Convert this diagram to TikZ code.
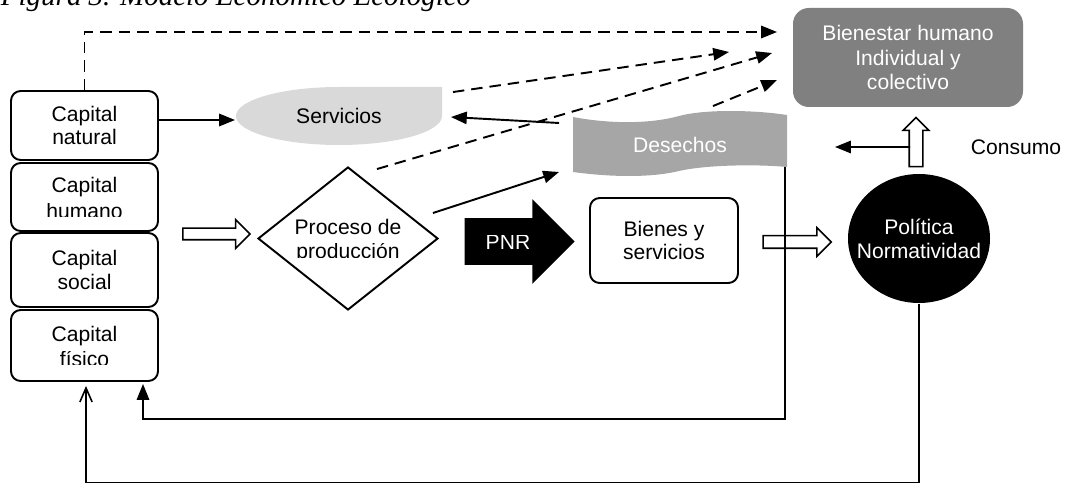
\documentclass[tikz,border=0pt]{standalone}
\usepackage{fontspec}
\setmainfont{Liberation Sans}
\newfontfamily\serifa{Liberation Serif}
\usepackage{trimclip}
\usetikzlibrary{arrows.meta,calc,positioning,shapes.geometric,shapes.arrows}

\def\px{0.02cm}
\newcommand\eco{\fontsize{12}{13.5}\selectfont}
\newcommand\recorte[2][1.1pt]{\clipbox{0pt {\dimexpr\depth+#1\relax} 0pt 0pt}{#2}}

\tikzset{
  eco schemes/.style = {
    x = \px, y = -\px,
    line width = 1.1pt,
    font = \eco,
    % Cajas
    capbox/.style = {draw, rounded corners=5.5pt, align=center, inner sep=0pt,
                     minimum width=147*\px},
    bloque/.style = {capbox, minimum width=148*\px, minimum height=85*\px},
    meta/.style   = {fill=gray, text=white, rounded corners=9pt, align=center,
                     minimum width=230*\px, minimum height=99*\px,
                     font=\fontsize{12}{14.2}\selectfont},
    rombo/.style  = {diamond, draw, fill=white, aspect=1.27, inner sep=0pt,
                     align=center, minimum width=180*\px, minimum height=143*\px},
    elipse/.style = {ellipse, fill=black, text=white, align=center,
                     inner xsep=-8pt, minimum width=142*\px, minimum height=129*\px},
    forma/.style  = {align=center, inner sep=0pt},
    % Flechas anchas: largo, medio ancho del cuerpo, saliente de la punta
    hueca/.style n args = {3}{single arrow, draw, fill=white, line width=0.9pt,
                     inner xsep=0pt, inner ysep=##2*\px, minimum height=##1*\px,
                     single arrow head extend=##3*\px},
    pnr/.style    = {single arrow, fill=black, text=white, inner xsep=0pt,
                     text height=8pt, text depth=0pt, inner ysep=8.8pt,
                     minimum height=110*\px, single arrow head extend=19*\px},
    % Lineas, flechas
    linea/.style   = {line width=1.1pt, -{Triangle[length=9pt,width=7pt]}},
    trazos/.style  = {linea, dash pattern=on 6.5pt off 4pt},
    abierta/.style = {line width=0.9pt, -{Straight Barb[length=8pt,width=7pt]}},
  }
}

\begin{document}
\begin{tikzpicture}[eco schemes]
\def\capital(#1)<#2>[#3] at (#4);{
  \node[capbox, minimum height=#2*\px] (#1) at (#4) {#3}; }

\useasboundingbox (0,0) rectangle (1066,483);
\node[anchor=base west, inner sep=0pt, font=\serifa\itshape\fontsize{16.5}{18}\selectfont]
  (titulo) at (0,6) {Figura 3. Modelo Económico Ecológico};

%---------------------------------------------
\capital (natural)<69>[Capital\\natural]          at (84.5,125.5);
\capital (humano)<68>[Capital\\\recorte{humano}]  at (84.5,197);
\capital (social)<74>[Capital\\social]            at (84.5,270);
\capital (fisico)<71>[Capital\\\recorte{físico}]  at (84.5,345.5);

\fill[gray!30] (442,87) -- (442,116) .. controls (442,132) and (396,145) .. (339,145)
  .. controls (282,145) and (236,132) .. (236,116)
  .. controls (236,100) and (282,87) .. (339,87) -- cycle;
\node[forma, minimum width=206*\px, minimum height=58*\px] (servicios) at (339,116) {Servicios};

\fill[gray!70] (573,117) .. controls (610,124) and (650,124) .. (679,116)
  .. controls (705,109) and (755,110) .. (787,115) -- (787,167)
  .. controls (755,164) and (705,165) .. (679,171)
  .. controls (650,178) and (610,177) .. (573,172) -- cycle;
\node[forma, text=white, minimum width=214*\px, minimum height=60*\px] (desechos) at (680,145) {Desechos};

\node[meta] (bienestar) at (908,57.5) {Bienestar humano\\Individual y\\colectivo};

\node[rombo] (proceso) at (348,238.5) {Proceso de\\\recorte[0.4pt]{producción}};
\node[pnr] (pnr) at (508,241.5) {\recorte[0.6pt]{PNR}};
\node[bloque] (bienes) at (664,240.5) {Bienes y\\servicios};
\node[elipse] (politica) at (919,238.5) {Política\\Normatividad};
\node (consumo) at (1016,147) {Consumo};
\coordinate (consumo tip) at (835,147);

\node[hueca={67}{5}{8.5}] (h1) at (213.5,234) {};
\node[hueca={68}{5.5}{8}] (h2) at (794,242) {};
\node[hueca={49}{6}{6}, rotate=90] (subida) at (916,145.5) {};

%---------------------------------------------
\draw[trazos] (natural.north) |- ($(bienestar.west)+(-15,-25.5)$);
\draw[trazos] ($(servicios.north east)+(10,6)$) -- ($(bienestar.west)+(-63,-5.5)$);
\draw[trazos] ($(proceso.north)+(29,3)$) -- ($(bienestar.west)+(-20,-4.5)$);
\draw[trazos] ($(desechos.north)+(33,-8)$) -- ($(bienestar.west)+(-15,22.5)$);

\draw[linea] ($(natural.east)+(0,-5.5)$) -- ($(servicios.west)+(0,4)$);
\draw[linea] ($(desechos.west)+(-13,-22)$) -- ($(servicios.east)+(8,1)$);
\draw[linea] ($(proceso.east)+(-6,-25.5)$) -- ($(desechos.west)+(-13,27)$);
\draw[linea] ($(subida.center)+(-6,1.5)$) -- (consumo tip);

\draw[linea] ($(desechos.east)+(-3,22)$) |- ($(fisico.south)+(58.5,37)$) -- ($(fisico.south)+(58.5,2)$);
\draw[abierta] (politica.south) |- ($(fisico.south)+(1.5,101)$) -- ($(fisico.south)+(1.5,4)$);

\end{tikzpicture}
\end{document}
